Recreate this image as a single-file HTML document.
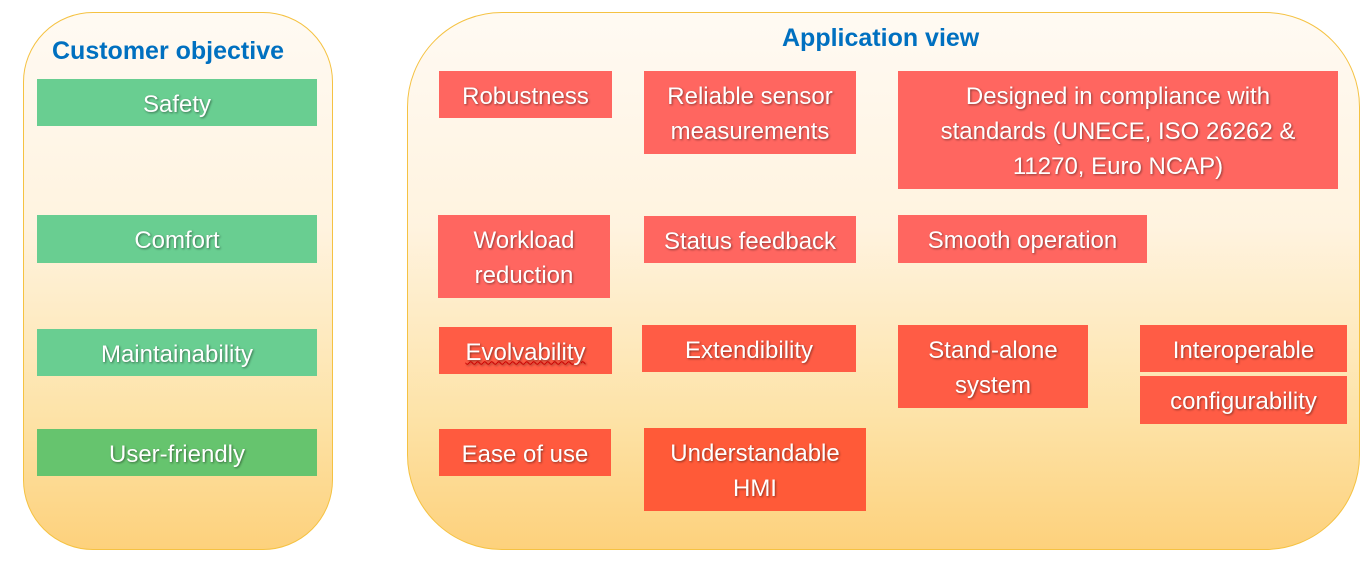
<!DOCTYPE html>
<html><head><meta charset="utf-8"><style>
body{margin:0;width:1370px;height:564px;background:#fff;position:relative;overflow:hidden;font-family:"Liberation Sans",sans-serif}
.c{position:absolute;border:1.5px solid #f5c242;box-sizing:border-box;background:linear-gradient(#fffaf3 0%,#fff3df 40%,#fde3a8 75%,#fdd17c 100%)}
.t{position:absolute;color:#0070c0;font-weight:bold;font-size:25px;font-family:"Liberation Sans",sans-serif}
.b{position:absolute;display:flex;align-items:center;justify-content:center;text-align:center;color:#fff;font-size:24px;line-height:35px;text-shadow:1px 1px 2px rgba(0,0,0,.45);box-sizing:border-box;padding-top:3px}
.g{background:#69ce91}
.r{background:#ff6660}
.o{background:#ff5c45}
</style></head><body>
<div class="c" style="left:23px;top:12px;width:310px;height:538px;border-radius:70px"></div>
<div class="c" style="left:407px;top:12px;width:953px;height:538px;border-radius:95px"></div>
<div class="t" style="left:52px;top:37px">Customer objective</div>
<div class="t" style="left:782px;top:24px">Application view</div>

<div class="b g" style="left:37px;top:79px;width:280px;height:47px">Safety</div>
<div class="b g" style="left:37px;top:215px;width:280px;height:48px">Comfort</div>
<div class="b g" style="left:37px;top:329px;width:280px;height:47px">Maintainability</div>
<div class="b g" style="left:37px;top:429px;width:280px;height:47px;background:#66c46e">User-friendly</div>

<div class="b r" style="left:439px;top:71px;width:173px;height:47px">Robustness</div>
<div class="b r" style="left:644px;top:71px;width:212px;height:83px">Reliable sensor<br>measurements</div>
<div class="b r" style="left:898px;top:71px;width:440px;height:118px">Designed in compliance with<br>standards (UNECE, ISO 26262 &amp;<br>11270, Euro NCAP)</div>
<div class="b r" style="left:438px;top:215px;width:172px;height:83px">Workload<br>reduction</div>
<div class="b r" style="left:644px;top:216px;width:212px;height:47px">Status feedback</div>
<div class="b r" style="left:898px;top:215px;width:249px;height:48px">Smooth operation</div>
<div class="b o" style="left:439px;top:327px;width:173px;height:47px;text-decoration:underline wavy #c00 1px">Evolvability</div>
<div class="b o" style="left:642px;top:325px;width:214px;height:47px">Extendibility</div>
<div class="b o" style="left:898px;top:325px;width:190px;height:83px">Stand-alone<br>system</div>
<div class="b o" style="left:1140px;top:325px;width:207px;height:47px">Interoperable</div>
<div class="b o" style="left:1140px;top:376px;width:207px;height:48px">configurability</div>
<div class="b o" style="left:439px;top:429px;width:172px;height:47px;background:#ff5a3e">Ease of use</div>
<div class="b o" style="left:644px;top:428px;width:222px;height:83px;background:#ff5a38">Understandable<br>HMI</div>
</body></html>
